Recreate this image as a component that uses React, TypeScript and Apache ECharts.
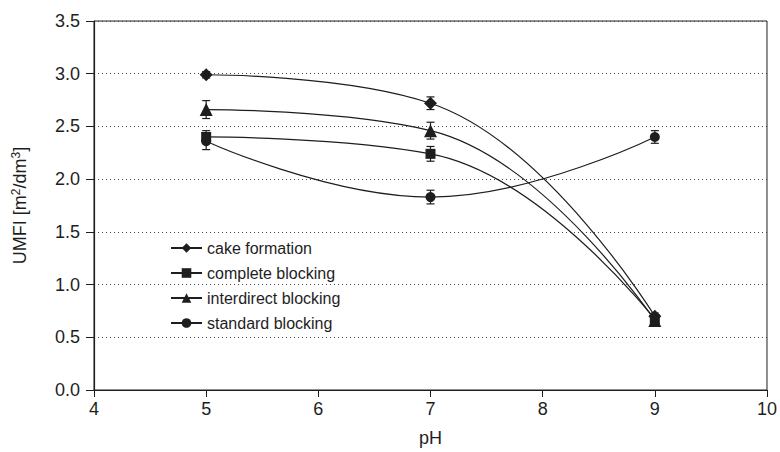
import React, { useEffect, useRef } from "react";
import * as echarts from "echarts";

const phValues = [5, 7, 9];
const seriesNames = ["cake formation", "complete blocking", "interdirect blocking", "standard blocking"];
const cakeFormation = [2.99, 2.72, 0.7];
const completeBlocking = [2.4, 2.24, 0.67];
const interdirectBlocking = [2.66, 2.46, 0.66];
const standardBlocking = [2.36, 1.83, 2.4];
const cakeErr = [0.03, 0.06, 0.03];
const completeErr = [0.06, 0.07, 0.03];
const interdirectErr = [0.085, 0.08, 0.03];
const standardErr = [0.08, 0.065, 0.06];
const symbols = ["diamond", "rect", "triangle", "circle"];
const symbolSizes = [13, 10, 13, 10];

const allValues = [cakeFormation, completeBlocking, interdirectBlocking, standardBlocking];
const allErrs = [cakeErr, completeErr, interdirectErr, standardErr];

const INK = "#1e1e1e";
const FONT = "'Liberation Sans', Arial, sans-serif";

export default function App() {
  const ref = useRef<HTMLDivElement>(null);
  useEffect(() => {
    if (!ref.current) return;
    const chart = echarts.init(ref.current, undefined, { renderer: "svg" });
    const errData: number[][] = [];
    allValues.forEach((vals, si) => {
      vals.forEach((v, i) => {
        errData.push([phValues[i], v - allErrs[si][i], v + allErrs[si][i]]);
      });
    });
    const lineSeries = allValues.map((vals, si) => ({
      name: seriesNames[si],
      type: "line",
      smooth: 0.45,
      data: vals.map((v, i) => [phValues[i], v]),
      symbol: symbols[si],
      symbolSize: symbolSizes[si],
      lineStyle: { color: INK, width: 1.2 },
      itemStyle: { color: INK },
      z: 3,
    }));
    chart.setOption({
      animation: false,
      backgroundColor: "#fff",
      grid: { left: 94, top: 21, right: 11, bottom: 60, show: true, borderColor: INK, borderWidth: 1 },
      legend: {
        data: seriesNames,
        orient: "vertical",
        left: 165,
        top: 235,
        itemGap: 9,
        itemWidth: 31,
        itemHeight: 12,
        textStyle: { fontSize: 16, color: INK, fontFamily: FONT },
      },
      xAxis: {
        type: "value",
        min: 4,
        max: 10,
        interval: 1,
        name: "pH",
        nameLocation: "middle",
        nameGap: 39,
        nameTextStyle: { fontSize: 18, color: INK, fontFamily: FONT },
        axisLine: { show: true, lineStyle: { color: INK, width: 1.2 } },
        axisTick: { show: true, length: 7, lineStyle: { color: INK } },
        axisLabel: { fontSize: 18, color: INK, fontFamily: FONT, margin: 10 },
        splitLine: { show: false },
      },
      yAxis: {
        type: "value",
        min: 0,
        max: 3.5,
        interval: 0.5,
        name: "UMFI [m{sup|2}/dm{sup|3}]",
        nameLocation: "middle",
        nameGap: 64,
        nameTextStyle: {
          fontSize: 18,
          color: INK,
          fontFamily: FONT,
          rich: { sup: { fontSize: 12, color: INK, fontFamily: FONT, padding: [0, 0, 8, 0] } },
        },
        axisLine: { show: true, lineStyle: { color: INK, width: 1.2 } },
        axisTick: { show: true, length: 8, lineStyle: { color: INK } },
        axisLabel: { fontSize: 18, color: INK, fontFamily: FONT, margin: 14, formatter: (v: number) => v.toFixed(1) },
        splitLine: { show: true, lineStyle: { color: "#444", type: [1, 3], width: 1 } },
      },
      series: [
        ...lineSeries,
        {
          type: "custom",
          name: "errors",
          data: errData,
          z: 4,
          renderItem: (params: any, api: any) => {
            const x = api.value(0);
            const lo = api.coord([x, api.value(1)]);
            const hi = api.coord([x, api.value(2)]);
            const cap = 4;
            const st = { stroke: INK, lineWidth: 1.2 };
            return {
              type: "group",
              children: [
                { type: "line", shape: { x1: lo[0], y1: lo[1], x2: hi[0], y2: hi[1] }, style: st },
                { type: "line", shape: { x1: lo[0] - cap, y1: lo[1], x2: lo[0] + cap, y2: lo[1] }, style: st },
                { type: "line", shape: { x1: hi[0] - cap, y1: hi[1], x2: hi[0] + cap, y2: hi[1] }, style: st },
              ],
            };
          },
        },
      ],
    });
    return () => chart.dispose();
  }, []);
  return <div ref={ref} style={{ position: "fixed", left: 0, top: 0, width: 780, height: 452 }} />;
}
